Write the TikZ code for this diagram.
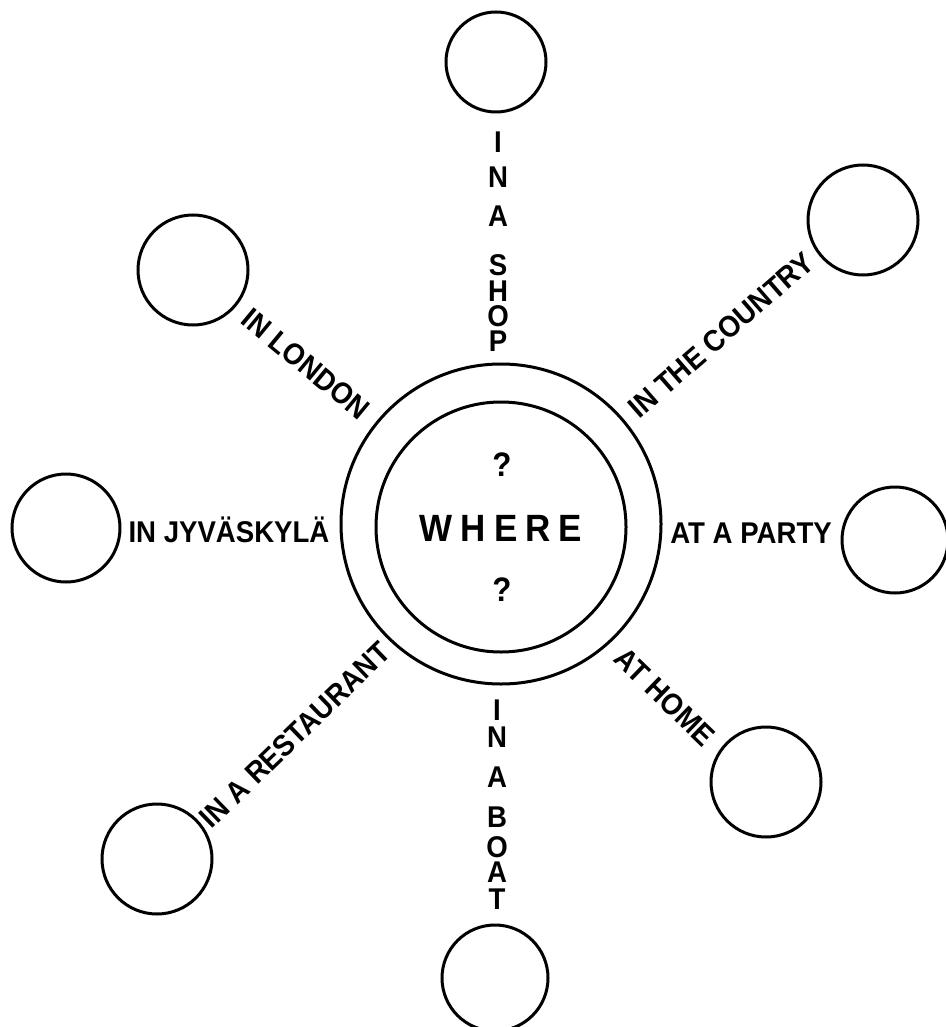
\documentclass[tikz,border=0pt]{standalone}
\usepackage{fontspec}
\setmainfont{Liberation Sans}[FakeStretch=0.92]
\begin{document}
\begin{tikzpicture}[x=0.5pt,y=-0.5pt,
  ring/.style={circle,draw,line width=1.5pt,inner sep=0pt,outer sep=0pt},
  lab/.style={font=\bfseries\fontsize{15}{15}\selectfont,inner sep=0pt},
  wherefont/.style={font=\bfseries\fontsize{19}{19}\selectfont,inner sep=0pt},
  qm/.style={font=\bfseries\fontsize{17}{17}\selectfont,inner sep=0pt}]
\useasboundingbox (0,0) rectangle (946,1027);
\clip (0,0) rectangle (946,1027);
% centre rings
\node[ring,minimum size=160pt] (outer) at (501,524) {};
\node[ring,minimum size=125pt] (inner) at (501,527) {};
\node[wherefont] (where) at (501,528) {W\kern4pt H\kern4pt E\kern4pt R\kern4pt E};
\node[qm] (q1) at (502,465) {?};
\node[qm] (q2) at (502,590) {?};
% outer small circles
\node[ring,minimum size=50pt] (shop) at (496,62) {};
\node[ring,minimum size=55pt] (country) at (863,220) {};
\node[ring,minimum size=55pt] (london) at (193,270) {};
\node[ring,minimum size=54pt] (jyv) at (66,528) {};
\node[ring,minimum size=53pt] (party) at (895,540) {};
\node[ring,minimum size=55pt] (restaurant) at (157,859) {};
\node[ring,minimum size=55pt] (home) at (766,782) {};
\node[ring,minimum size=53pt] (boat) at (495,978) {};
% labels
\node[lab,rotate=-39.6] (lLondon) at (306,364) {IN LONDON};
\node[lab,rotate=41] (lCountry) at (721,335) {IN THE COUNTRY};
\node[lab] (lJyv) at (229,530) {IN JYVÄSKYLÄ};
\node[lab] (lParty) at (751,533) {AT A PARTY};
\node[lab,rotate=44] (lRest) at (295,735) {IN A RESTAURANT};
\node[lab,rotate=-44] (lHome) at (665,697) {AT HOME};
% vertical labels
\foreach \ch/\yy [count=\i] in {I/142,N/177,A/216,S/265,H/291,O/316,P/341}
  \node[lab] (shop\i) at (498,\yy) {\ch};
\foreach \ch/\yy [count=\i] in {I/710,N/737,A/777,B/817,O/847,A/872,T/899}
  \node[lab] (boat\i) at (497,\yy) {\ch};
\end{tikzpicture}
\end{document}
